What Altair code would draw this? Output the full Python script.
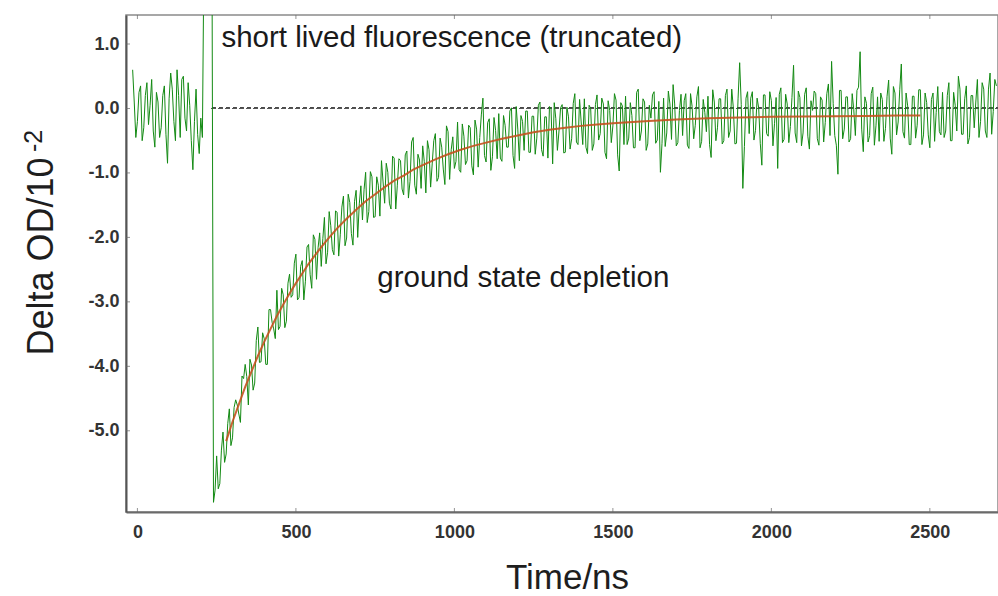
import altair as alt
import pandas as pd

FONT = "Liberation Sans"

# ---- data ----
PRE_T0, PRE_DT = -15, 5
PRE_Y = [0.60, 0.10, -0.45, -0.20, 0.25, 0.35, -0.50, -0.30, 0.20, 0.40,
         -0.25, 0.05, 0.45, -0.35, -0.60, 0.25, 0.10, -0.45, -0.30, 0.20,
         0.35, -0.40, -0.85, 0.15, 0.55, 0.30, -0.20, -0.50, 0.60, 0.20,
         -0.45, 0.45, 0.50, -0.15, -0.35, 0.40, 0.05, -0.50, -0.95, -0.20,
         0.30, -0.40, -0.70, -0.15, -0.45]
SPIKE_T = [211, 235]
SPIKE_Y = [3.0, 3.0]
DECAY_T0, DECAY_DT = 240, 5
DECAY_Y = [
    -6.11, -5.92, -5.39, -5.90, -5.82, -5.30, -5.02, -5.49, -5.36, -4.89,
    -4.66, -5.23, -5.11, -4.64, -4.52, -4.60, -4.74, -4.87, -4.15, -4.19,
    -3.97, -4.16, -4.60, -3.89, -3.98, -4.37, -4.26, -3.60, -3.39, -3.94,
    -3.93, -3.48, -3.57, -3.97, -3.97, -3.12, -3.12, -3.32, -3.42, -3.57,
    -2.82, -3.43, -3.38, -2.79, -2.89, -3.40, -3.30, -2.71, -2.57, -2.93,
    -2.89, -2.40, -2.26, -2.97, -2.93, -2.45, -2.36, -2.97, -2.68, -2.15,
    -2.11, -2.58, -2.79, -1.96, -2.03, -2.65, -2.16, -1.93, -2.45, -2.02,
    -1.69, -2.41, -2.23, -1.60, -1.82, -2.19, -2.27, -1.59, -1.61, -2.29,
    -1.96, -1.53, -1.36, -2.13, -2.01, -1.33, -1.46, -1.94, -2.12, -1.44,
    -1.27, -2.00, -1.48, -1.20, -1.73, -1.26, -0.99, -1.77, -1.60, -0.98,
    -1.06, -1.69, -1.68, -1.06, -1.19, -1.67, -0.81, -1.14, -1.47, -0.85,
    -0.99, -1.47, -1.56, -0.74, -0.77, -1.56, -1.19, -0.78, -0.81, -1.25,
    -1.34, -0.72, -0.66, -1.39, -1.13, -0.52, -0.45, -1.19, -1.33, -0.71,
    -0.80, -1.24, -0.58, -0.82, -1.31, -0.50, -0.64, -1.22, -0.86, -0.50,
    -0.39, -1.13, -1.07, -0.46, -0.60, -0.94, -1.18, -0.27, -0.36, -1.10,
    -0.64, -0.44, -0.93, -0.82, -0.21, -0.95, -0.99, -0.24, -0.43, -0.87,
    -0.81, -0.26, -0.30, -0.89, -1.03, -0.18, -0.32, -0.91, -0.45, -0.10,
    0.16, -0.73, -0.83, -0.22, -0.16, -0.96, -0.75, -0.14, -0.34, -0.78,
    -0.08, -0.77, -0.82, -0.11, -0.26, -0.60, -0.60, -0.04, 0.01, -0.73,
    -0.93, 0.03, -0.32, -0.81, -0.11, -0.20, -0.65, -0.04, -0.04, -0.68,
    -0.68, -0.12, -0.12, -0.71, -0.46, 0.05, 0.10, -0.64, -0.74, -0.13,
    -0.13, -0.77, 0.03, -0.01, -0.86, 0.09, -0.16, -0.65, -0.35, 0.01,
    0.06, -0.69, -0.68, 0.02, -0.13, -0.63, -0.47, 0.08, 0.23, -0.52,
    -0.56, 0.14, -0.21, -0.56, 0.15, -0.60, -0.70, 0.05, 0.00, -0.65,
    -0.55, 0.06, 0.21, -0.49, -0.39, 0.16, 0.07, -0.68, -0.78, 0.12,
    -0.03, -0.53, -0.27, 0.23, 0.13, -0.72, -0.97, 0.09, 0.04, -0.56,
    0.19, -0.56, -0.46, 0.09, -0.11, -0.61, -0.61, 0.25, 0.30, -0.50,
    -0.35, 0.15, 0.10, -0.65, -0.55, 0.05, -0.15, 0.21, 0.26, -0.54,
    -0.49, 0.11, -0.99, -0.54, 0.16, -0.59, -0.38, 0.27, 0.07, -0.48,
    0.37, 0.07, -0.58, -0.53, -0.03, 0.22, -0.42, 0.12, 0.23, -0.57,
    -0.62, 0.23, 0.03, -0.47, -0.26, 0.18, 0.34, -0.61, -0.51, 0.14,
    -0.06, -0.36, 0.19, -0.56, -0.76, 0.29, 0.10, -0.50, -0.30, 0.15,
    0.15, -0.55, -0.50, 0.20, 0.30, -0.45, -0.35, 0.30, 0.01, -0.55,
    -0.54, 0.16, 0.71, 0.06, -1.24, -0.59, 0.16, 0.26, -0.39, 0.16,
    0.26, -0.49, -0.34, 0.16, 0.01, -0.54, -0.88, 0.21, 0.21, -0.39,
    -0.43, 0.26, 0.12, -0.58, -0.23, 0.17, -0.93, 0.22, 0.32, -0.53,
    -0.48, 0.22, 0.07, -0.53, -0.28, 0.17, 0.67, -0.38, -0.53, 0.27,
    0.17, -0.58, -0.38, 0.22, 0.32, -0.43, -0.63, 0.12, -0.03, 0.27,
    0.23, -0.47, -0.57, 0.18, 0.13, -0.52, -0.22, 0.23, 0.38, -0.42,
    0.73, 0.08, -0.42, -0.57, -1.02, 0.28, 0.28, -0.47, -0.32, 0.18,
    0.18, -0.52, -0.47, 0.23, -0.02, -0.42, 0.28, 0.33, 0.88, -0.32,
    -0.67, 0.18, 0.08, -0.52, -0.42, 0.23, 0.33, -0.57, -0.27, 0.18,
    -0.51, 0.24, 0.14, -0.51, -0.31, 0.19, 0.44, -0.46, -0.71, 0.34,
    0.24, -0.41, -0.21, 0.29, 0.69, -0.36, -0.46, 0.24, 0.04, -0.56,
    -0.56, 0.19, 0.19, -0.46, -0.26, 0.29, 0.29, -0.56, -0.41, 0.24,
    0.09, -0.41, -0.61, 0.14, 0.24, -0.51, -0.06, 0.34, -0.36, -0.41,
    0.25, -0.45, -0.35, 0.20, 0.40, -0.50, -0.50, 0.25, 0.05, -0.35,
    0.50, 0.30, -0.40, -0.40, 0.15, 0.35, -0.55, -0.45, 0.20, 0.20,
    -0.30, 0.10, 0.45, -0.45, -0.20, 0.40, 0.30, -0.35, -0.45, 0.30,
    0.55, -0.40, -0.05, 0.45, 0.35,
]
FIT_T = [280, 300, 320, 340, 360, 380, 400, 420, 440, 460, 480, 500, 520, 540,
         560, 580, 600, 630, 660, 690, 720, 750, 780, 810, 840, 870, 900, 940,
         980, 1020, 1060, 1100, 1150, 1200, 1250, 1300, 1350, 1400, 1450, 1500,
         1600, 1700, 1800, 1900, 2000, 2100, 2200, 2300, 2400, 2470]
FIT_Y = [-5.16, -4.86, -4.59, -4.32, -4.08, -3.84, -3.62, -3.42, -3.22, -3.04,
         -2.87, -2.71, -2.56, -2.41, -2.28, -2.15, -2.03, -1.86, -1.71, -1.57,
         -1.44, -1.33, -1.22, -1.12, -1.04, -0.95, -0.88, -0.79, -0.71, -0.64,
         -0.58, -0.53, -0.47, -0.42, -0.37, -0.33, -0.30, -0.27, -0.25, -0.23,
         -0.20, -0.17, -0.15, -0.14, -0.13, -0.125, -0.12, -0.115, -0.11, -0.11]
ZERO_FROM, ZERO_TO = 235, 2715
X_TICKS = [0, 500, 1000, 1500, 2000, 2500]
Y_TICKS = [1.0, 0.0, -1.0, -2.0, -3.0, -4.0, -5.0]
ANN_TEXT = ["short lived fluorescence (truncated)", "ground state depletion"]
ANN_T = [265, 757]
ANN_Y = [0.946, -2.777]
X_DOMAIN = [-36, 2715]
Y_DOMAIN = [-6.26, 1.45]

# ---- tables ----
t_all = ([PRE_T0 + PRE_DT * i for i in range(len(PRE_Y))] + SPIKE_T +
         [DECAY_T0 + DECAY_DT * i for i in range(len(DECAY_Y))])
y_all = PRE_Y + SPIKE_Y + DECAY_Y
trace = pd.DataFrame({"t": t_all, "y": y_all, "i": list(range(len(t_all)))})
fit = pd.DataFrame({"t": FIT_T, "y": FIT_Y})
xt = pd.DataFrame({"t": X_TICKS})
yt = pd.DataFrame({"y": Y_TICKS})
ann = pd.DataFrame({"t": ANN_T, "y": ANN_Y, "s": ANN_TEXT})

W, H = 872, 497
xs = alt.Scale(domain=X_DOMAIN, nice=False, zero=False)
ys = alt.Scale(domain=Y_DOMAIN, nice=False, zero=False)

xaxis = alt.Axis(values=X_TICKS, format="d", ticks=False, tickSize=0, grid=False,
                 domainColor="#6a6a6a", domainWidth=2, labelFlush=False,
                 labelFont=FONT, labelFontSize=18, labelFontWeight="bold",
                 labelColor="#333333", labelPadding=11,
                 title="Time/ns", titleFont=FONT, titleFontSize=35,
                 titleFontWeight="normal", titleColor="#1e1e1e",
                 titleBaseline="alphabetic", titleY=76, titleX=441)
yaxis = alt.Axis(values=Y_TICKS,
                 labelExpr="datum.value < 0 ? '-' + format(-datum.value, '.1f') : format(datum.value, '.1f')",
                 ticks=False, tickSize=0, grid=False, labelFlush=False,
                 domainColor="#555555", domainWidth=2,
                 labelFont=FONT, labelFontSize=18, labelFontWeight="bold",
                 labelColor="#333333", labelPadding=7,
                 title="Delta OD/10", titleFont=FONT, titleFontSize=36,
                 titleFontWeight="normal", titleColor="#1e1e1e",
                 titleAngle=270, titleAlign="center", titleBaseline="alphabetic",
                 titleX=-74, titleY=241)

X = lambda f: alt.X(f, scale=xs, axis=xaxis)
Y = lambda f: alt.Y(f, scale=ys, axis=yaxis)

zero = alt.Chart(trace).mark_rule(color="#555555", strokeWidth=1, strokeDash=[4, 3]).encode(
    x=alt.XDatum(ZERO_FROM, scale=xs, axis=xaxis), x2=alt.X2Datum(ZERO_TO),
    y=alt.YDatum(0, scale=ys, axis=yaxis))

line = alt.Chart(trace).mark_line(color="#138a13", strokeWidth=1, clip=True).encode(
    x=X("t:Q"), y=Y("y:Q"), order="i:Q")

fitline = alt.Chart(fit).mark_line(color="#c4521f", strokeWidth=2, clip=True, opacity=0.9).encode(
    x=X("t:Q"), y=Y("y:Q"))

xt_bottom = alt.Chart(xt).mark_tick(orient="vertical", size=8, thickness=1,
                                    color="#666666", clip=True).encode(
    x=X("t:Q"), y=alt.value(H))
xt_top = alt.Chart(xt).mark_tick(orient="vertical", size=8, thickness=1,
                                 color="#666666", clip=True).encode(
    x=X("t:Q"), y=alt.value(0))
yt_left = alt.Chart(yt).mark_tick(orient="horizontal", size=8, thickness=1,
                                  color="#666666", clip=True).encode(
    y=Y("y:Q"), x=alt.value(0))

labels = alt.Chart(ann).mark_text(align="left", baseline="alphabetic", font=FONT,
                                  fontSize=29.5, color="#1a1a1a").encode(
    x=X("t:Q"), y=Y("y:Q"), text="s:N")

sup = alt.Chart(pd.DataFrame({"s": ["-2"]})).mark_text(
    angle=270, align="left", baseline="alphabetic", font=FONT, fontSize=25,
    color="#1e1e1e").encode(x=alt.value(-84), y=alt.value(137), text="s:N")

chart = alt.layer(zero, line, fitline, xt_bottom, xt_top, yt_left, labels, sup).properties(
    width=W, height=H,
    autosize=alt.AutoSizeParams(type="none"),
    padding={"left": 126, "top": 15, "right": 0, "bottom": 84},
).configure_view(stroke="#8a8a8a", strokeWidth=1.5)

chart.save("out.html", embed_options={"renderer": "svg", "actions": False})
